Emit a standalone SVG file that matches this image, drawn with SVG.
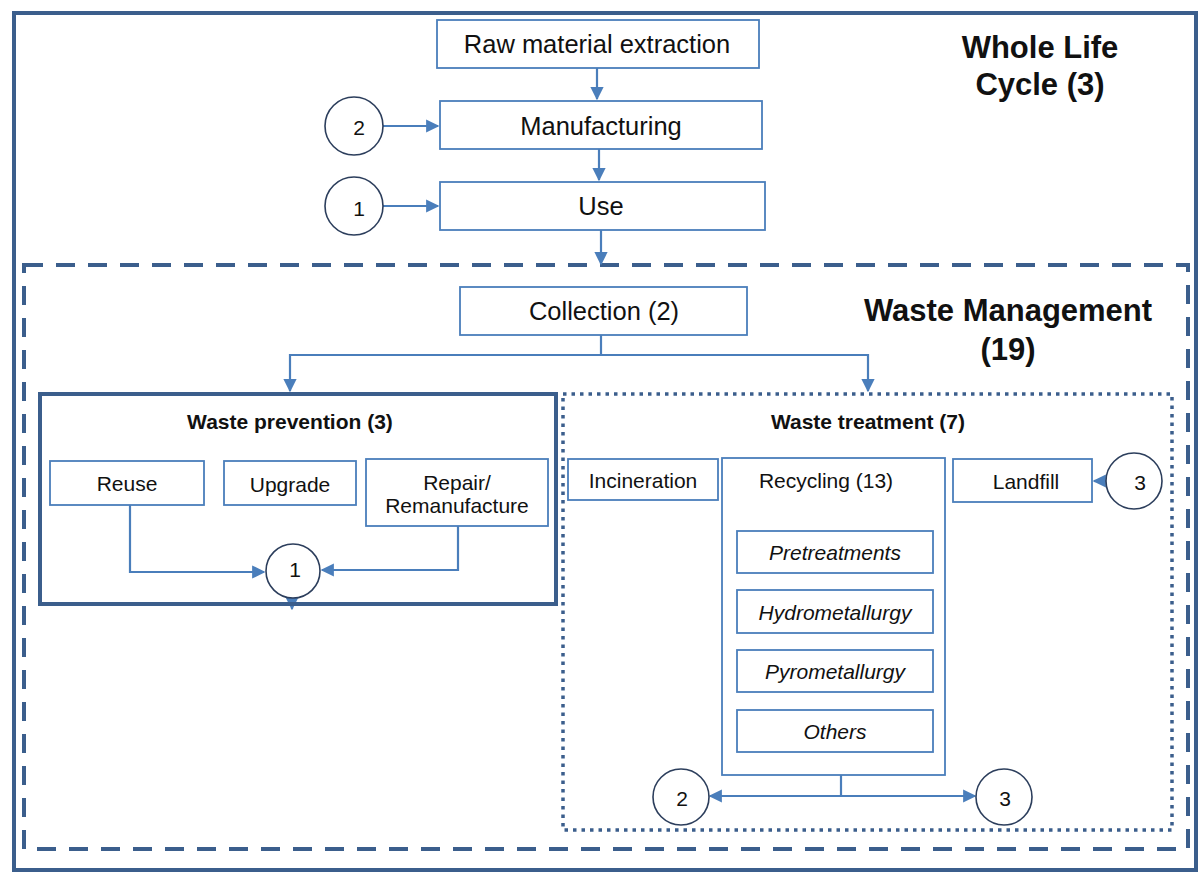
<svg xmlns="http://www.w3.org/2000/svg" width="1202" height="875" viewBox="0 0 1202 875">
<defs>
<marker id="ah" viewBox="0 0 10 10" refX="9" refY="5" markerWidth="6" markerHeight="6" orient="auto" markerUnits="strokeWidth"><path d="M0,0 L10,5 L0,10 z" fill="#4a7ebb"/></marker>
<style>
.box{fill:#fff;stroke:#4a7ebb;stroke-width:1.8}
.circ{fill:#fff;stroke:#2c3e5c;stroke-width:1.6}
.t{font-family:"Liberation Sans",Arial,sans-serif;fill:#111;text-anchor:middle;dominant-baseline:central}
.big{font-size:25.5px}
.mid{font-size:21px}
.it{font-size:21px;font-style:italic}
.ttl{font-size:31px;font-weight:bold}
.bold{font-weight:bold}
.con{fill:none;stroke:#4a7ebb;stroke-width:2.2}
</style>
</defs>
<rect x="0" y="0" width="1202" height="875" fill="#fff"/>
<g id="frames">
<rect x="14" y="13" width="1182" height="857" fill="none" stroke="#3b5e8c" stroke-width="4"/>
<rect x="24" y="265" width="1164" height="584" fill="none" stroke="#3b5e8c" stroke-width="4" stroke-dasharray="19,13"/>
</g>
<g id="title-wlc">
<text class="t ttl" x="1040" y="47">Whole Life</text>
<text class="t ttl" x="1040" y="84">Cycle (3)</text>
</g>
<g id="title-wm">
<text class="t ttl" x="1008" y="310">Waste Management</text>
<text class="t ttl" x="1008" y="349">(19)</text>
</g>
<g id="connectors">
<line class="con" x1="597" y1="68" x2="597" y2="99" marker-end="url(#ah)"/>
<line class="con" x1="599" y1="149" x2="599" y2="180" marker-end="url(#ah)"/>
<line class="con" x1="601" y1="230" x2="601" y2="264" marker-end="url(#ah)"/>
<line class="con" x1="383" y1="126" x2="438" y2="126" marker-end="url(#ah)"/>
<line class="con" x1="383" y1="206" x2="438" y2="206" marker-end="url(#ah)"/>
<polyline class="con" points="601,335 601,355 290,355 290,391" marker-end="url(#ah)"/>
<polyline class="con" points="601,355 868,355 868,391" marker-end="url(#ah)"/>
<polyline class="con" points="130,505 130,572 264,572" marker-end="url(#ah)"/>
<polyline class="con" points="458,526 458,570 322,570" marker-end="url(#ah)"/>
<line class="con" x1="292" y1="578" x2="292" y2="609" marker-end="url(#ah)"/>
<line class="con" x1="1106" y1="481" x2="1094" y2="481" marker-end="url(#ah)"/>
<polyline class="con" points="841,775 841,796"/>
<line class="con" x1="841" y1="796" x2="710" y2="796" marker-end="url(#ah)"/>
<line class="con" x1="841" y1="796" x2="975" y2="796" marker-end="url(#ah)"/>
</g>
<g id="raw">
<rect class="box" x="437" y="20" width="322" height="48"/>
<text class="t big" x="597" y="44">Raw material extraction</text>
</g>
<g id="manufacturing">
<rect class="box" x="440" y="101" width="322" height="48"/>
<text class="t big" x="601" y="126">Manufacturing</text>
</g>
<g id="use">
<rect class="box" x="440" y="182" width="325" height="48"/>
<text class="t big" x="601" y="206">Use</text>
</g>
<g id="c2-top">
<circle class="circ" cx="354" cy="126" r="29"/>
<text class="t mid" x="359" y="127">2</text>
</g>
<g id="c1-top">
<circle class="circ" cx="354" cy="206" r="29"/>
<text class="t mid" x="359" y="208">1</text>
</g>
<g id="collection">
<rect class="box" x="460" y="287" width="287" height="48"/>
<text class="t big" x="604" y="311">Collection (2)</text>
</g>
<g id="waste-prevention">
<rect x="40" y="394" width="516" height="210" fill="none" stroke="#3b5e8c" stroke-width="4"/>
<text class="t bold mid" x="290" y="421">Waste prevention (3)</text>
</g>
<g id="reuse">
<rect class="box" x="50" y="461" width="154" height="44"/>
<text class="t mid" x="127" y="483">Reuse</text>
</g>
<g id="upgrade">
<rect class="box" x="224" y="461" width="132" height="44"/>
<text class="t mid" x="290" y="484">Upgrade</text>
</g>
<g id="repair">
<rect class="box" x="366" y="459" width="182" height="67"/>
<text class="t mid" x="457" y="482">Repair/</text>
<text class="t mid" x="457" y="505">Remanufacture</text>
</g>
<g id="c1-prev">
<circle class="circ" cx="293" cy="571" r="27"/>
<text class="t mid" x="295" y="569">1</text>
</g>
<g id="waste-treatment">
<rect x="563" y="394" width="609" height="436" fill="none" stroke="#3b5e8c" stroke-width="3.5" stroke-dasharray="3.5,5"/>
<text class="t bold mid" x="868" y="421">Waste treatment (7)</text>
</g>
<g id="incineration">
<rect class="box" x="568" y="459" width="150" height="41"/>
<text class="t mid" x="643" y="480">Incineration</text>
</g>
<g id="recycling">
<rect class="box" x="722" y="458" width="223" height="317"/>
<text class="t mid" x="826" y="480">Recycling (13)</text>
</g>
<g id="landfill">
<rect class="box" x="953" y="459" width="139" height="43"/>
<text class="t mid" x="1026" y="481">Landfill</text>
</g>
<g id="c3-landfill">
<circle class="circ" cx="1134" cy="481" r="28"/>
<text class="t mid" x="1140" y="482">3</text>
</g>
<g id="pretreatments">
<rect class="box" x="737" y="531" width="196" height="42"/>
<text class="t it" x="835" y="552">Pretreatments</text>
</g>
<g id="hydro">
<rect class="box" x="737" y="590" width="196" height="43"/>
<text class="t it" x="835" y="612">Hydrometallurgy</text>
</g>
<g id="pyro">
<rect class="box" x="737" y="650" width="196" height="42"/>
<text class="t it" x="835" y="671">Pyrometallurgy</text>
</g>
<g id="others">
<rect class="box" x="737" y="710" width="196" height="42"/>
<text class="t it" x="835" y="731">Others</text>
</g>
<g id="c2-bottom">
<circle class="circ" cx="681" cy="797" r="28"/>
<text class="t mid" x="682" y="798">2</text>
</g>
<g id="c3-bottom">
<circle class="circ" cx="1004" cy="797" r="28"/>
<text class="t mid" x="1005" y="798">3</text>
</g>
</svg>
